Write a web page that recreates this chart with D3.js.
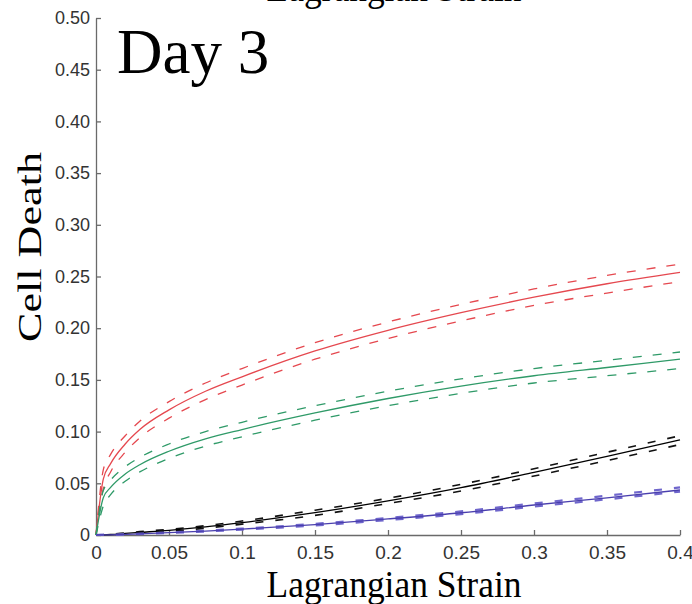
<!DOCTYPE html>
<html>
<head>
<meta charset="utf-8">
<script src="https://cdn.jsdelivr.net/npm/d3@7"></script>
<style>
  body { margin: 0; background: #fff; }
  .tick text { font-family: "Liberation Sans", Arial, sans-serif; fill: #333; }
  .domain, .tick line { stroke: #6a6a6a; stroke-width: 1.3; }
  .lbl { font-family: "Liberation Serif", "Times New Roman", serif; fill: #000; }
</style>
</head>
<body>
<div class="diagram"></div>
<script>
// strain sample points
const strain = [0, 0.005, 0.01, 0.02, 0.03, 0.05, 0.075, 0.1, 0.15, 0.2, 0.25, 0.3, 0.35, 0.4];

// red
const redMid   = [0, 0.054, 0.069, 0.088, 0.102, 0.121, 0.139, 0.153, 0.178, 0.198, 0.215, 0.230, 0.243, 0.254];
const redHi    = [0, 0.063, 0.078, 0.096, 0.110, 0.129, 0.147, 0.161, 0.186, 0.206, 0.223, 0.238, 0.251, 0.262];
const redLo    = [0, 0.045, 0.061, 0.080, 0.094, 0.113, 0.131, 0.145, 0.170, 0.190, 0.207, 0.222, 0.234, 0.245];
// green
const greenMid = [0, 0.036, 0.046, 0.059, 0.068, 0.081, 0.093, 0.102, 0.118, 0.132, 0.144, 0.154, 0.162, 0.170];
const greenHi  = [0, 0.043, 0.053, 0.066, 0.075, 0.088, 0.100, 0.109, 0.125, 0.139, 0.151, 0.161, 0.169, 0.177];
const greenLo  = [0, 0.028, 0.039, 0.052, 0.061, 0.074, 0.086, 0.095, 0.111, 0.125, 0.137, 0.147, 0.154, 0.161];
// black
const blackMid = [0, 0.0002, 0.0005, 0.0015, 0.0025, 0.0045, 0.0078, 0.012, 0.0216, 0.033, 0.0458, 0.0606, 0.076, 0.092];
const blackHi  = [0, 0.0003, 0.0007, 0.0020, 0.0033, 0.0055, 0.0090, 0.0135, 0.024, 0.0355, 0.049, 0.064, 0.080, 0.096];
const blackLo  = [0, 0.0001, 0.0003, 0.0010, 0.0017, 0.0035, 0.0066, 0.0105, 0.019, 0.0305, 0.0425, 0.057, 0.072, 0.0875];
// blue
const blueMid  = [0, 0.0001, 0.0002, 0.0006, 0.0011, 0.0022, 0.0038, 0.0057, 0.0100, 0.0155, 0.0215, 0.029, 0.036, 0.0435];
const blueHi   = [0, 0.0001, 0.0003, 0.0007, 0.0013, 0.0025, 0.0042, 0.0062, 0.0108, 0.0165, 0.0228, 0.0305, 0.038, 0.046];
const blueLo   = [0, 0.0001, 0.0001, 0.0005, 0.0009, 0.0019, 0.0034, 0.0052, 0.0092, 0.0145, 0.0202, 0.0275, 0.0345, 0.042];

// ticks
const xTicks = [0, 0.05, 0.1, 0.15, 0.2, 0.25, 0.3, 0.35, 0.4];
const xTickLabels = ["0", "0.05", "0.1", "0.15", "0.2", "0.25", "0.3", "0.35", "0.4"];
const yTicks = [0, 0.05, 0.1, 0.15, 0.2, 0.25, 0.3, 0.35, 0.4, 0.45, 0.5];
const yTickLabels = ["0", "0.05", "0.10", "0.15", "0.20", "0.25", "0.30", "0.35", "0.40", "0.45", "0.50"];

const series = [
  {vals: redHi,    color: "#e5484f", dash: "9,11", w: 1.3},
  {vals: redLo,    color: "#e5484f", dash: "9,11", w: 1.3},
  {vals: redMid,   color: "#e5484f", dash: null,   w: 1.3},
  {vals: greenHi,  color: "#2f9a68", dash: "9,11", w: 1.3},
  {vals: greenLo,  color: "#2f9a68", dash: "9,11", w: 1.3},
  {vals: greenMid, color: "#2f9a68", dash: null,   w: 1.3},
  {vals: blackHi,  color: "#111",    dash: "8,12", w: 1.6},
  {vals: blackLo,  color: "#111",    dash: "8,12", w: 1.6},
  {vals: blackMid, color: "#000",    dash: null,   w: 1.3},
  {vals: blueHi,   color: "#6f66cc", dash: "8,12", w: 2.2},
  {vals: blueLo,   color: "#6f66cc", dash: "8,12", w: 2.2},
  {vals: blueMid,  color: "#4a3fae", dash: null,   w: 1.3}
];

const width = 692, height = 604;
const svg = d3.select(".diagram").append("svg")
    .attr("width", width)
    .attr("height", height);

const x = d3.scaleLinear().domain([0, 0.4]).range([96, 680]);
const y = d3.scaleLinear().domain([0, 0.5]).range([535, 18]);

// axes, ticks point inward
svg.append("g")
    .attr("transform", "translate(0,535)")
    .call(d3.axisBottom(x).tickValues(xTicks)
      .tickFormat((d, i) => xTickLabels[i])
      .tickSizeInner(-5).tickSizeOuter(0).tickPadding(11))
    .call(g => g.selectAll("text").style("font-size", "19px"));

svg.append("g")
    .attr("transform", "translate(96,0)")
    .call(d3.axisLeft(y).tickValues(yTicks)
      .tickFormat((d, i) => yTickLabels[i])
      .tickSizeInner(-5).tickSizeOuter(0).tickPadding(6))
    .call(g => g.selectAll("text").style("font-size", "18px"));

// curves
const line = d3.line()
    .x((d, i) => x(strain[i]))
    .y(d => y(d))
    .curve(d3.curveMonotoneX);

svg.selectAll(".curve")
    .data(series)
  .enter().append("path")
    .attr("class", "curve")
    .attr("fill", "none")
    .attr("stroke", d => d.color)
    .attr("stroke-width", d => d.w)
    .attr("stroke-dasharray", d => d.dash)
    .attr("d", d => line(d.vals));

// labels
svg.append("text").attr("class", "lbl")
    .attr("x", 117).attr("y", 73)
    .style("font-size", "63px")
    .text("Day 3");

svg.append("text").attr("class", "lbl")
    .attr("x", 394).attr("y", 597)
    .attr("text-anchor", "middle")
    .attr("textLength", 255).attr("lengthAdjust", "spacingAndGlyphs")
    .style("font-size", "37px")
    .text("Lagrangian Strain");

// title, mostly cut off at the top
svg.append("text").attr("class", "lbl")
    .attr("x", 394).attr("y", 1)
    .attr("text-anchor", "middle")
    .attr("textLength", 255).attr("lengthAdjust", "spacingAndGlyphs")
    .style("font-size", "37px")
    .text("Lagrangian Strain");

svg.append("text").attr("class", "lbl")
    .attr("transform", "translate(41,247) rotate(-90)")
    .attr("text-anchor", "middle")
    .attr("textLength", 190).attr("lengthAdjust", "spacingAndGlyphs")
    .style("font-size", "33px")
    .text("Cell Death");
</script>
</body>
</html>
